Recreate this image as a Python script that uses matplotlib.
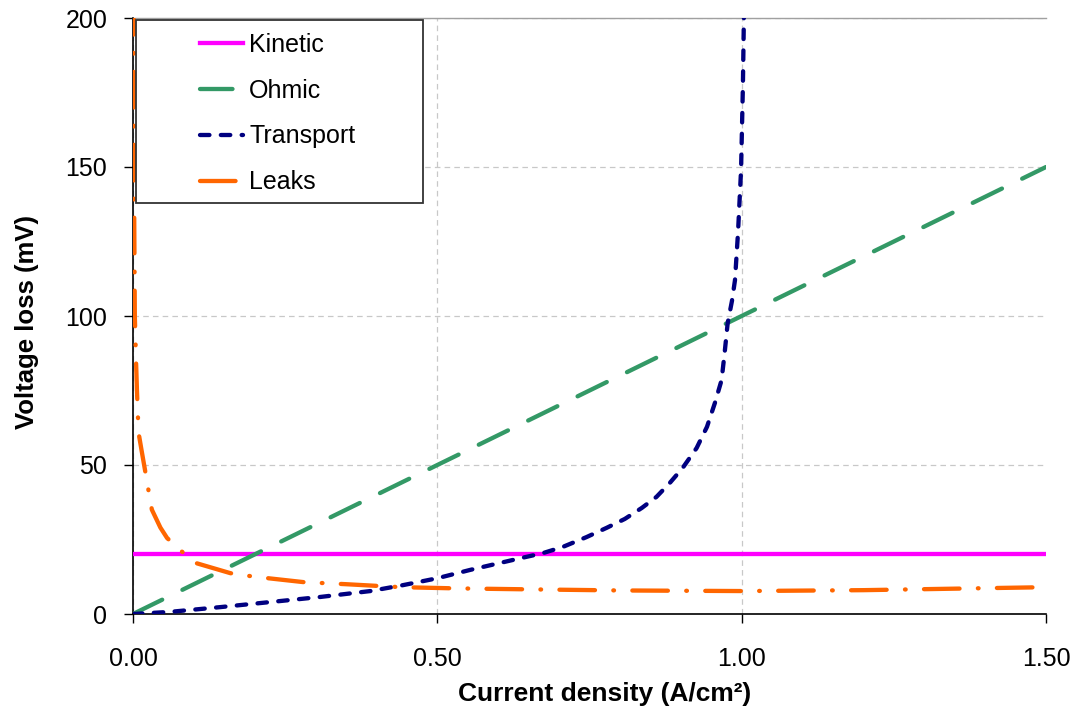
#Voltage losses of the cell vs current density
import matplotlib
matplotlib.use("Agg")
import matplotlib.pyplot as plt
from matplotlib.patches import Rectangle

plt.rcParams['font.family'] = ['Liberation Sans', 'DejaVu Sans']
plt.rcParams['lines.scale_dashes'] = False #dash lengths given in points

#data (current density in A/cm2, loss in mV)
kinetic_i = [0.0, 1.5]
kinetic_v = [20, 20]

ohmic_i = [0.0, 1.5]
ohmic_v = [0, 150]

transport_i = [0.0, 0.06, 0.143, 0.225, 0.307, 0.39, 0.444, 0.5, 0.554, 0.636, 0.673,
               0.706, 0.745, 0.778, 0.808, 0.836, 0.86, 0.882, 0.903, 0.926, 0.943,
               0.956, 0.967, 0.972, 0.977, 0.984, 0.989, 0.994, 0.999, 1.002, 1.004]
transport_v = [0, 0.7, 2.3, 4.0, 5.7, 7.7, 9.7, 12.0, 14.8, 18.7, 20.4,
               22.5, 25.8, 28.9, 31.9, 35.6, 39.3, 44, 49, 55.7, 62.8,
               70.8, 78.5, 87.6, 97.6, 105, 112, 128, 149, 177, 205]

leaks_i = [0.0008, 0.0015, 0.003, 0.005, 0.0065, 0.008, 0.009, 0.014, 0.02, 0.025,
           0.031, 0.045, 0.056, 0.08, 0.105, 0.16, 0.2, 0.28, 0.35, 0.44, 0.53,
           0.64, 0.8, 1.0, 1.2, 1.5]
leaks_v = [215, 150, 100, 85, 75, 67, 61, 55, 48, 42,
           35, 29, 25.5, 21, 17, 13.7, 12.5, 10.7, 10.0, 9.0, 8.6,
           8.3, 7.9, 7.7, 8.0, 9.0]

x_ticks = [0.0, 0.5, 1.0, 1.5]
x_tick_labels = ["0.00", "0.50", "1.00", "1.50"]
y_ticks = [0, 50, 100, 150, 200]

W, H = 1078, 706
fig = plt.figure(figsize=(W / 100, H / 100), dpi=100)
ax = fig.add_axes([133 / W, 1 - 614 / H, 913 / W, 596 / H])

lw = 3.1
ax.plot(kinetic_i, kinetic_v, color='#FF00FF', lw=lw, label='Kinetic', zorder=3)
ax.plot(ohmic_i, ohmic_v, color='#339966', lw=lw, label='Ohmic', zorder=4,
        dashes=(23.4, 16.2), dash_capstyle='round')
ax.plot(transport_i, transport_v, color='#000080', lw=lw, label='Transport', zorder=5,
        dashes=(6.8, 8.2), dash_capstyle='round')
ax.plot(leaks_i, leaks_v, color='#FF6600', lw=lw, label='Leaks', zorder=6,
        dashes=(25.6, 13.2, 0.5, 13.2), dash_capstyle='round')

ax.set_xlim(0, 1.5)
ax.set_ylim(0, 200)
ax.set_xticks(x_ticks)
ax.set_xticklabels(x_tick_labels)
ax.set_yticks(y_ticks)

#light dashed grid like the original
ax.grid(True, color='#c8c8c8', lw=0.9, linestyle=(0, (4, 3)), zorder=0)
ax.set_axisbelow(True)
ax.xaxis.get_gridlines()[-1].set_visible(False) #no grid line on the right edge

ax.spines['right'].set_visible(False)
ax.spines['top'].set_color('#a0a0a0')
ax.spines['top'].set_linewidth(1.0)
ax.spines['left'].set_linewidth(1.2)
ax.spines['bottom'].set_linewidth(1.2)

ax.tick_params(axis='y', direction='out', length=6.5, width=1, pad=12, labelsize=18)
ax.tick_params(axis='x', direction='out', length=6.5, width=1, pad=17, labelsize=18)

ax.set_xlabel("Current density (A/cm\u00b2)", fontsize=19, fontweight='bold')
ax.set_ylabel("Voltage loss (mV)", fontsize=18.5, fontweight='bold')
ax.xaxis.set_label_coords(0.517, -0.114)
ax.yaxis.set_label_coords(-0.103, 0.49)

#legend box drawn by hand so the padding matches
ax.add_patch(Rectangle(((136 - 133) / 913, (614 - 203) / 596), (423 - 136) / 913, (203 - 20) / 596,
                       transform=ax.transAxes, facecolor='white', edgecolor='#333333',
                       lw=1.3, zorder=7))
leg = ax.legend(loc='upper left', bbox_to_anchor=(200 / W, 1 - 33 / H),
                bbox_transform=fig.transFigure, frameon=False, fontsize=18,
                borderpad=0, borderaxespad=0, handlelength=1.72, handletextpad=0.25,
                labelspacing=0.87)
leg.set_zorder(8)

fig.savefig("out.png", dpi=100)
